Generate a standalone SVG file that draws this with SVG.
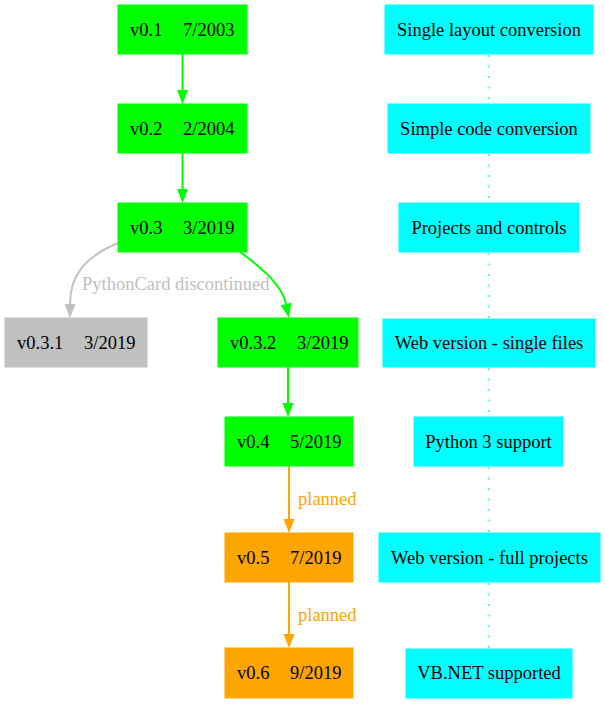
<svg xmlns="http://www.w3.org/2000/svg" width="605" height="704" viewBox="0 0 605 704">
<style>
text{font-family:"Liberation Serif","Times New Roman",serif;font-size:18.5px;fill:#000}
.g rect{fill:#00ff00;stroke:#00ff00}
.o rect{fill:#ffa500;stroke:#ffa500}
.s rect{fill:#c0c0c0;stroke:#c0c0c0}
.c rect{fill:#00ffff;stroke:#00ffff}
.c text{text-anchor:middle}
.e{fill:none;stroke-width:2}
.eg{stroke:#00ff00;marker-end:url(#ag)}
.es{stroke:#c0c0c0;marker-end:url(#as)}
.eo{stroke:#ffa500;marker-end:url(#ao)}
.d{fill:none;stroke:#00ffff;stroke-width:1.3;stroke-dasharray:2 8.5}
.lbl-s{fill:#c0c0c0}
.lbl-o{fill:#ffa500}
</style>
<defs>
<marker id="ag" markerUnits="userSpaceOnUse" markerWidth="16" markerHeight="12" refX="0" refY="5.5" orient="auto" overflow="visible"><path d="M0,0 L14,5.5 L0,11 z" fill="#00ff00"/></marker>
<marker id="as" markerUnits="userSpaceOnUse" markerWidth="16" markerHeight="12" refX="0" refY="5.5" orient="auto" overflow="visible"><path d="M0,0 L14,5.5 L0,11 z" fill="#c0c0c0"/></marker>
<marker id="ao" markerUnits="userSpaceOnUse" markerWidth="16" markerHeight="12" refX="0" refY="5.5" orient="auto" overflow="visible"><path d="M0,0 L14,5.5 L0,11 z" fill="#ffa500"/></marker>
</defs>
<g id="connectors">
<path class="e eg" d="M182.5,54 L182.5,90"/>
<path class="e eg" d="M182.5,153 L182.5,189"/>
<path class="e es" d="M118,243 C85,257 70,275 70,304"/>
<path class="e eg" d="M240,252 C262,268 282,285 286,304"/>
<path class="e eg" d="M288,367 L288,403"/>
<path class="e eo" d="M289,466 L289,519"/>
<path class="e eo" d="M289,582 L289,634"/>
<path class="d" d="M489,55 L489,104"/>
<path class="d" d="M489,154 L489,203"/>
<path class="d" d="M489,253 L489,319"/>
<path class="d" d="M489,368 L489,417"/>
<path class="d" d="M489,467 L489,533"/>
<path class="d" d="M489,583 L489,649"/>
<text class="lbl-s" x="82" y="290">PythonCard discontinued</text>
<text class="lbl-o" x="298" y="505">planned</text>
<text class="lbl-o" x="298" y="621">planned</text>
</g>
<g id="v01" class="g"><rect x="118" y="5" width="129" height="49"/><text y="35.5"><tspan x="130">v0.1</tspan><tspan x="183">7/2003</tspan></text></g>
<g id="v02" class="g"><rect x="118" y="104" width="129" height="49"/><text y="134.5"><tspan x="130">v0.2</tspan><tspan x="183">2/2004</tspan></text></g>
<g id="v03" class="g"><rect x="118" y="203" width="129" height="49"/><text y="233.5"><tspan x="130">v0.3</tspan><tspan x="183">3/2019</tspan></text></g>
<g id="v031" class="s"><rect x="5" y="318" width="142" height="49"/><text y="348.5"><tspan x="17">v0.3.1</tspan><tspan x="84">3/2019</tspan></text></g>
<g id="v032" class="g"><rect x="218" y="318" width="140" height="49"/><text y="348.5"><tspan x="230">v0.3.2</tspan><tspan x="297">3/2019</tspan></text></g>
<g id="v04" class="g"><rect x="225" y="417" width="128" height="49"/><text y="447.5"><tspan x="237">v0.4</tspan><tspan x="290">5/2019</tspan></text></g>
<g id="v05" class="o"><rect x="225" y="533" width="128" height="49"/><text y="563.5"><tspan x="237">v0.5</tspan><tspan x="290">7/2019</tspan></text></g>
<g id="v06" class="o"><rect x="225" y="648" width="128" height="50"/><text y="678.5"><tspan x="237">v0.6</tspan><tspan x="290">9/2019</tspan></text></g>
<g id="f1" class="c"><rect x="385" y="5" width="208" height="49"/><text x="489" y="35.5">Single layout conversion</text></g>
<g id="f2" class="c"><rect x="388" y="104" width="202" height="49"/><text x="489" y="134.5">Simple code conversion</text></g>
<g id="f3" class="c"><rect x="399" y="203" width="180" height="49"/><text x="489" y="233.5">Projects and controls</text></g>
<g id="f4" class="c"><rect x="383" y="319" width="212" height="48"/><text x="489" y="348.5">Web version - single files</text></g>
<g id="f5" class="c"><rect x="414" y="417" width="149" height="49"/><text x="488.5" y="447.5">Python 3 support</text></g>
<g id="f6" class="c"><rect x="379" y="533" width="221" height="49"/><text x="489.5" y="563.5">Web version - full projects</text></g>
<g id="f7" class="c"><rect x="406" y="649" width="166" height="49"/><text x="489" y="679">VB.NET supported</text></g>
</svg>
